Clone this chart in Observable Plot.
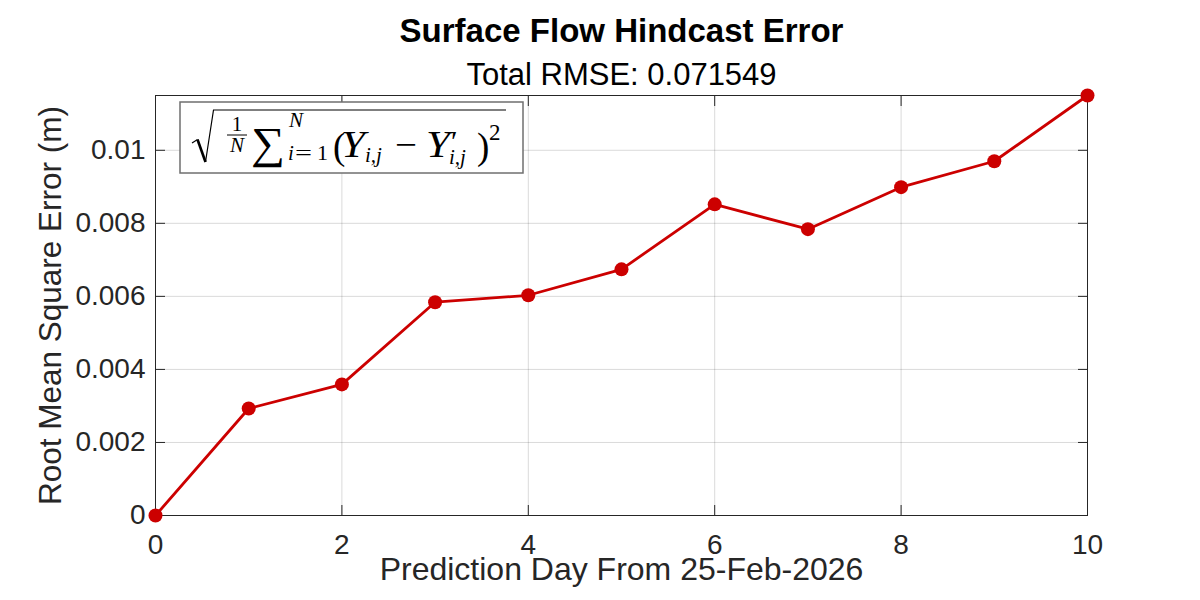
<!DOCTYPE html>
<html>
<head>
<meta charset="utf-8">
<script src="https://cdn.jsdelivr.net/npm/d3@7"></script>
<script src="https://cdn.jsdelivr.net/npm/@observablehq/plot@0.6"></script>
<style>
  html, body { margin: 0; padding: 0; background: #fff; }
  #chart { position: relative; width: 1200px; height: 600px; }
</style>
</head>
<body>
<div id="chart"></div>
<script>
// ---- data ----
const days = [0, 1, 2, 3, 4, 5, 6, 7, 8, 9, 10];
const rmse = [0, 0.00293, 0.00359, 0.00584, 0.00603, 0.00674, 0.00852, 0.00784, 0.00899, 0.0097, 0.0115];
const xTicks = [0, 2, 4, 6, 8, 10];
const yTicks = [0, 0.002, 0.004, 0.006, 0.008, 0.01];
const yTickLabels = ["0", "0.002", "0.004", "0.006", "0.008", "0.01"];
const titleText = "Surface Flow Hindcast Error";
const subtitleText = "Total RMSE: 0.071549";
const xLabel = "Prediction Day From 25-Feb-2026";
const yLabel = "Root Mean Square Error (m)";

const data = days.map((d, i) => ({ day: d, rmse: rmse[i] }));

const red = "#cc0000";
const axisColor = "#262626";
const sans = "'Liberation Sans', Arial, Helvetica, sans-serif";
const serif = "'Liberation Serif', 'Times New Roman', serif";

const plot = Plot.plot({
  width: 1200,
  height: 600,
  marginLeft: 155,
  marginRight: 113,
  marginTop: 95,
  marginBottom: 85,
  style: { fontFamily: sans, background: "#fff", color: axisColor, overflow: "visible" },
  x: { domain: [0, 10] },
  y: { domain: [0, 0.0115] },
  marks: [
    Plot.gridX(xTicks, { stroke: "#000", strokeOpacity: 0.15 }),
    Plot.gridY(yTicks, { stroke: "#000", strokeOpacity: 0.15 }),
    Plot.frame({ stroke: axisColor, strokeWidth: 1 }),
    // tick labels
    Plot.axisX(xTicks, { anchor: "bottom", tickSize: 0, tickPadding: 19, fontSize: 28, label: null, tickFormat: d => String(d), fill: axisColor }),
    Plot.axisY(yTicks, { anchor: "left", tickSize: 0, tickPadding: 10, fontSize: 28, label: null, tickFormat: d => yTickLabels[yTicks.indexOf(d)], fill: axisColor }),
    // inward ticks on all four sides
    Plot.axisX(xTicks, { anchor: "bottom", tickSize: -10, fill: "none", label: null, stroke: axisColor }),
    Plot.axisX(xTicks, { anchor: "top", tickSize: -10, fill: "none", label: null, stroke: axisColor }),
    Plot.axisY(yTicks, { anchor: "left", tickSize: -10, fill: "none", label: null, stroke: axisColor }),
    Plot.axisY(yTicks, { anchor: "right", tickSize: -10, fill: "none", label: null, stroke: axisColor }),
    // data
    Plot.line(data, { x: "day", y: "rmse", stroke: red, strokeWidth: 2.8 }),
    Plot.dot(data, { x: "day", y: "rmse", r: 7, fill: red, stroke: red, strokeWidth: 0 }),
    // titles and labels
    Plot.text([titleText], { text: d => d, frameAnchor: "top", dy: -53.5, lineAnchor: "bottom", fontSize: 33, fontWeight: "bold", fill: "#000" }),
    Plot.text([subtitleText], { text: d => d, frameAnchor: "top", dy: -11, lineAnchor: "bottom", fontSize: 31, fill: "#000" }),
    Plot.text([xLabel], { text: d => d, frameAnchor: "bottom", dy: 64.5, lineAnchor: "bottom", fontSize: 32, fill: axisColor }),
    Plot.text([yLabel], { text: d => d, frameAnchor: "left", dx: -95, rotate: -90, textAnchor: "middle", lineAnchor: "bottom", fontSize: 31.5, fill: axisColor })
  ]
});

document.getElementById("chart").appendChild(plot);

// ---- formula legend box (annotation) ----
const svg = d3.select(plot.tagName.toLowerCase() === "svg" ? plot : plot.querySelector("svg"));
const g = svg.append("g").attr("class", "formula-legend");
g.append("rect")
  .attr("x", 180).attr("y", 102).attr("width", 343).attr("height", 71)
  .attr("fill", "#fff").attr("stroke", "#6f6f6f").attr("stroke-width", 1.5);
// radical sign
g.append("path")
  .attr("d", "M192,143 L197.5,139.5")
  .attr("fill", "none").attr("stroke", "#000").attr("stroke-width", 1.2);
g.append("path")
  .attr("d", "M197.5,139.5 L205.5,162")
  .attr("fill", "none").attr("stroke", "#000").attr("stroke-width", 2.6);
g.append("path")
  .attr("d", "M205.5,162 L213.5,110 L506,110")
  .attr("fill", "none").attr("stroke", "#000").attr("stroke-width", 1.2);
// fraction rule
g.append("line").attr("x1", 227).attr("x2", 247).attr("y1", 135).attr("y2", 135)
  .attr("stroke", "#000").attr("stroke-width", 1);

const parts = [
  { t: "1", x: 237, y: 131, size: 21, anchor: "middle" },
  { t: "N", x: 237, y: 152, size: 21, italic: true, anchor: "middle" },
  { t: "\u2211", x: 251, y: 158, size: 44, len: 34 },
  { t: "N", x: 289, y: 127, size: 21, italic: true },
  { t: "i", x: 288, y: 160, size: 21, italic: true },
  { t: "=", x: 295, y: 160, size: 22, len: 17 },
  { t: "1", x: 317, y: 160, size: 22 },
  { t: "(", x: 333, y: 159, size: 37 },
  { t: "Y", x: 341, y: 157, size: 37, italic: true, len: 24 },
  { t: "i,j", x: 365, y: 162, size: 21, italic: true },
  { t: "\u2212", x: 395, y: 157, size: 37, len: 22 },
  { t: "Y", x: 426, y: 157, size: 37, italic: true, len: 24 },
  { t: "\u2032", x: 451, y: 151, size: 30 },
  { t: "i,j", x: 449, y: 164, size: 21, italic: true },
  { t: ")", x: 477, y: 159, size: 37 },
  { t: "2", x: 489, y: 140, size: 23 }
];
for (const p of parts) {
  const tx = g.append("text")
    .attr("x", p.x).attr("y", p.y)
    .attr("font-family", serif)
    .attr("font-size", p.size)
    .attr("font-style", p.italic ? "italic" : "normal")
    .attr("text-anchor", p.anchor || "start")
    .attr("fill", "#000")
    .text(p.t);
  if (p.len) tx.attr("textLength", p.len).attr("lengthAdjust", "spacingAndGlyphs");
}
</script>
</body>
</html>
